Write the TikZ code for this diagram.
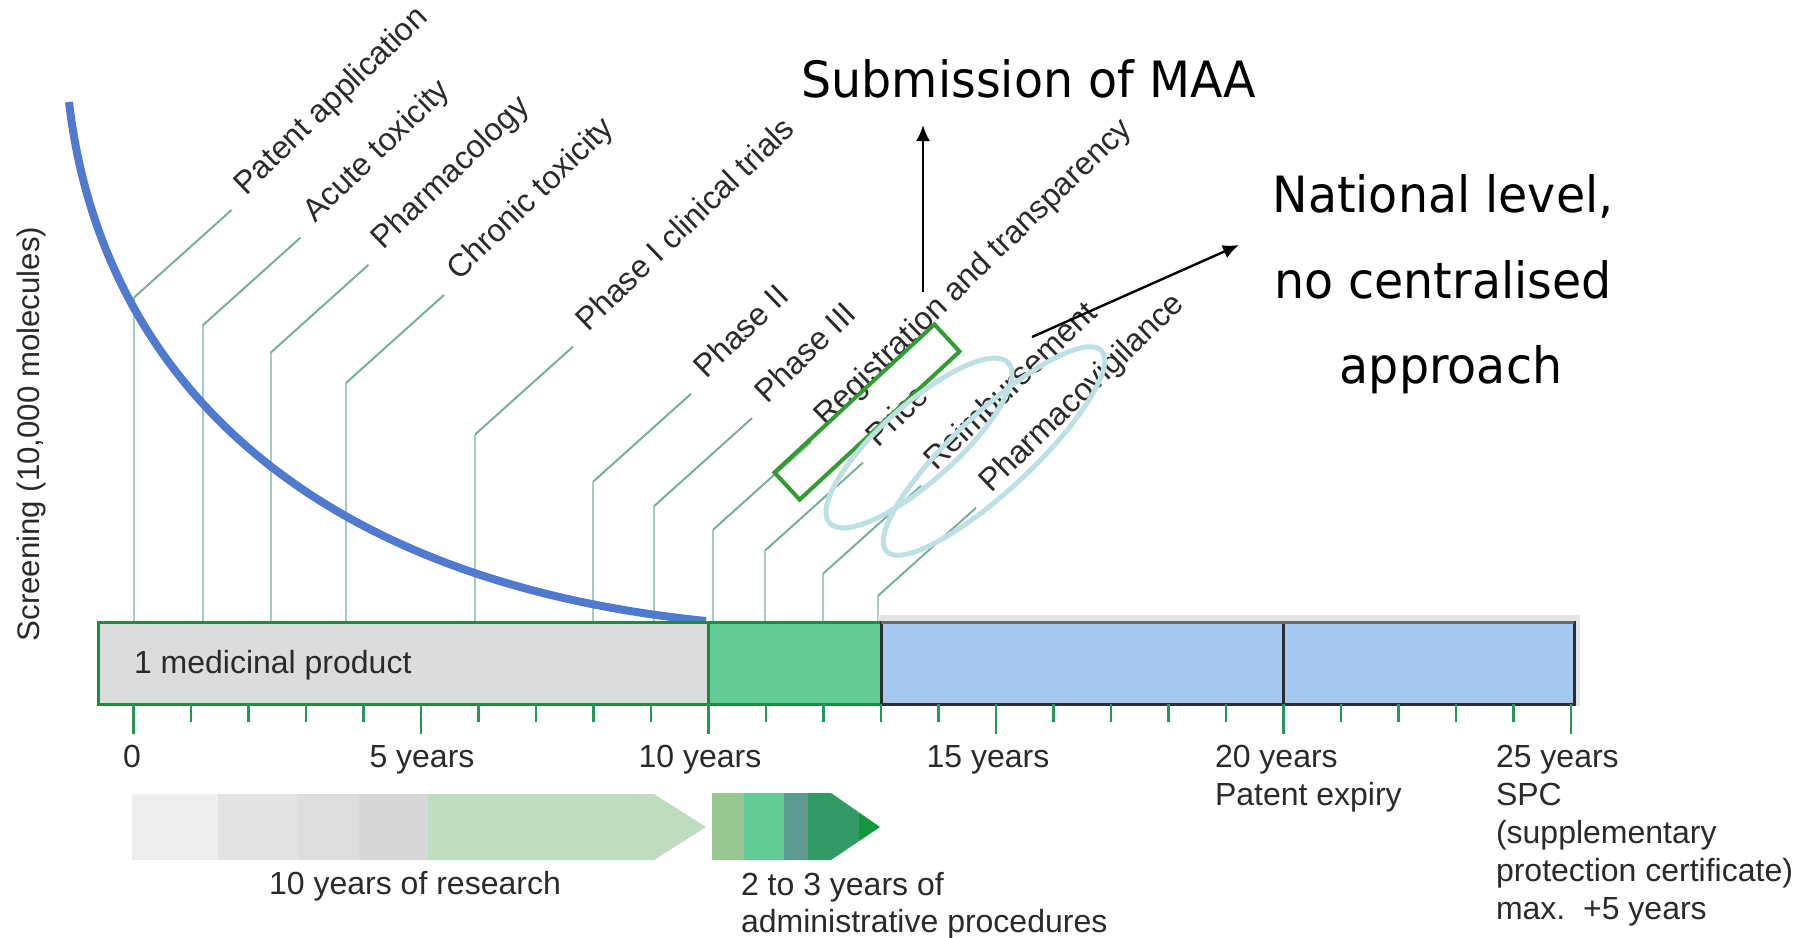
\documentclass[tikz,border=0pt]{standalone}
\usepackage{fontspec}
\setmainfont{Liberation Sans}
\newfontfamily\bigfont[FakeStretch=0.95]{DejaVu Sans}
\usetikzlibrary{arrows.meta,shapes.geometric}

\definecolor{txt}{RGB}{42,42,42}
\definecolor{curveblue}{RGB}{80,122,208}
\definecolor{vlinec}{RGB}{165,203,198}
\definecolor{dlinec}{RGB}{120,176,152}
\definecolor{barGray}{RGB}{220,220,220}
\definecolor{barGreen}{RGB}{30,140,60}
\definecolor{barMint}{RGB}{100,202,150}
\definecolor{barBlue}{RGB}{166,200,238}
\definecolor{barEdge}{RGB}{45,45,50}
\definecolor{topEdge}{RGB}{105,105,110}
\definecolor{shadowc}{RGB}{228,228,228}
\definecolor{tickc}{RGB}{40,150,90}
\definecolor{ellc}{RGB}{188,224,228}
\definecolor{rectc}{RGB}{50,155,50}
\definecolor{ra}{RGB}{238,238,238}
\definecolor{rb}{RGB}{227,227,227}
\definecolor{rc}{RGB}{221,221,221}
\definecolor{rd}{RGB}{215,215,215}
\definecolor{re}{RGB}{192,220,192}
\definecolor{aa}{RGB}{150,200,143}
\definecolor{ab}{RGB}{100,202,150}
\definecolor{ac}{RGB}{95,154,147}
\definecolor{ad}{RGB}{51,153,102}
\definecolor{ae}{RGB}{20,150,60}

\begin{document}
\begin{tikzpicture}[x=0.5pt,y=-0.5pt,
  lbl/.style={font=\fontsize{16}{19.25}\selectfont, text=txt, inner sep=0pt, outer sep=0pt},
  diag/.style={lbl, rotate=44, anchor=base west},
  vline/.style={draw=vlinec, line width=1pt},
  dline/.style={draw=dlinec, line width=1pt},
  tickmark/.style={draw=tickc, line width=1.2pt},
  big/.style={font=\bigfont\fontsize{25}{30}\selectfont, text=black, inner sep=0pt},
  callout/.style={draw=black, line width=1.2pt, -{Latex[length=8pt,width=7pt]}},
  oval/.style={ellipse, draw=ellc, line width=2.5pt, inner sep=0pt, outer sep=0pt},
]
\useasboundingbox (0,0) rectangle (1804,937);

% leader lines and the rotated milestone labels
\foreach \i/\x/\lab in {1/133.5/Patent application, 2/202.5/Acute toxicity,
  3/270.5/Pharmacology, 4/346/Chronic toxicity, 5/475/Phase I clinical trials,
  6/593/Phase II, 7/654/Phase III, 8/713/Registration and transparency,
  9/765/Price, 10/823/Reimbursement, 11/878/Pharmacovigilance} {
  \pgfmathsetmacro\ky{298+0.4*(\x-133.5)}
  \coordinate (lb\i) at (\x,622);
  \coordinate (lk\i) at (\x,\ky);
  \coordinate (le\i) at (\x+98,\ky-88);
  \draw[vline] (lb\i) -- (lk\i);
  \draw[dline] (lk\i) -- (le\i);
  \node[diag] (lt\i) at ([shift={(15,-14)}]le\i) {\lab};
}

% screening curve
\coordinate (cs) at (69,102);
\coordinate (ce) at (706,621);
\draw[curveblue, line width=4pt] (cs) .. controls (100,370) and (300,580) .. (ce);

% vertical axis label
\node[lbl, rotate=90, font=\fontsize{15.6}{18}\selectfont] (screen) at (31,434) {Screening (10,000 molecules)};

% time bar
\fill[shadowc] (878,615) rectangle (1580,706);
\filldraw[fill=barGray, draw=barGreen, line width=1.5pt] (98,622) rectangle (708.5,704);
\filldraw[fill=barMint, draw=barGreen, line width=1.5pt] (708.5,622) rectangle (881,704);
\filldraw[fill=barBlue, draw=barEdge, line width=1.5pt] (881,622) rectangle (1574,704);
\draw[barEdge, line width=1.8pt] (1283.5,622) -- (1283.5,704);
\draw[topEdge, line width=1.5pt] (881,622) -- (1574,622);
\node[lbl, anchor=base west] (prod) at (134,673) {1 medicinal product};

% year ticks
\foreach \n in {0,...,25} {
  \pgfmathsetmacro\tx{133.5+57.5*\n}
  \pgfmathtruncatemacro\r{mod(\n,5)}
  \ifnum\r=0 \def\tl{734}\else \def\tl{722}\fi
  \coordinate (ta\n) at (\tx,704);
  \coordinate (tb\n) at (\tx,\tl);
  \draw[tickmark] (ta\n) -- (tb\n);
}

% tick labels
\node[lbl, anchor=base] (y0) at (132,767) {0};
\node[lbl, anchor=base] (y5) at (422,767) {5 years};
\node[lbl, anchor=base] (y10) at (700,767) {10 years};
\node[lbl, anchor=base] (y15) at (988,767) {15 years};
\node[lbl, anchor=base west] (y20) at (1215,767) {20 years};
\node[lbl, anchor=base west] (pexp) at (1215,805) {Patent expiry};
\node[lbl, anchor=base west] (y25) at (1496,767) {25 years};
\node[lbl, anchor=base west] (spc1) at (1496,805) {SPC};
\node[lbl, anchor=base west] (spc2) at (1496,843) {(supplementary};
\node[lbl, anchor=base west] (spc3) at (1496,881) {protection certificate)};
\node[lbl, anchor=base west] (spc4) at (1496,919) {max.\ \ +5 years};

% research arrow
\begin{scope}
  \clip (132,794) -- (654,794) -- (706,827) -- (654,860) -- (132,860) -- cycle;
  \fill[ra] (130,790) rectangle (218,865);
  \fill[rb] (218,790) rectangle (298,865);
  \fill[rc] (298,790) rectangle (359,865);
  \fill[rd] (359,790) rectangle (428,865);
  \fill[re] (428,790) rectangle (710,865);
\end{scope}
\node[lbl, anchor=base] (res) at (415,894) {10 years of research};

% administrative procedures arrow
\begin{scope}
  \clip (712,793) -- (831,793) -- (880,827) -- (831,860) -- (712,860) -- cycle;
  \fill[aa] (710,790) rectangle (744,865);
  \fill[ab] (744,790) rectangle (784,865);
  \fill[ac] (784,790) rectangle (808,865);
  \fill[ad] (808,790) rectangle (859,865);
  \fill[ae] (859,790) rectangle (885,865);
\end{scope}
\node[lbl, anchor=base west] (adm1) at (741,895) {2 to 3 years of};
\node[lbl, anchor=base west] (adm2) at (741,932) {administrative procedures};

% highlights
\node[draw=rectc, line width=2pt, rotate=42.8, minimum width=109pt, minimum height=18.5pt, inner sep=0pt] (regbox) at (867,412) {};
\node[oval, rotate=41.8, minimum width=120pt, minimum height=38pt] (priceoval) at (919,443) {};
\node[oval, rotate=43, minimum width=147pt, minimum height=39pt] (reimboval) at (994,451) {};

% callouts
\node[big, anchor=base west] (maa) at (801,97) {Submission of MAA};
\node[big, anchor=base] (nat1) at (1443,212) {National level,};
\node[big, anchor=base] (nat2) at (1443,298) {no centralised};
\node[big, anchor=base] (nat3) at (1451,383) {approach};
\coordinate (sa) at (923,292);
\coordinate (sb) at (923,125);
\draw[callout] (sa) -- (sb);
\coordinate (na) at (1032,337);
\coordinate (nb) at (1239,245);
\draw[callout] (na) -- (nb);
\end{tikzpicture}
\end{document}
